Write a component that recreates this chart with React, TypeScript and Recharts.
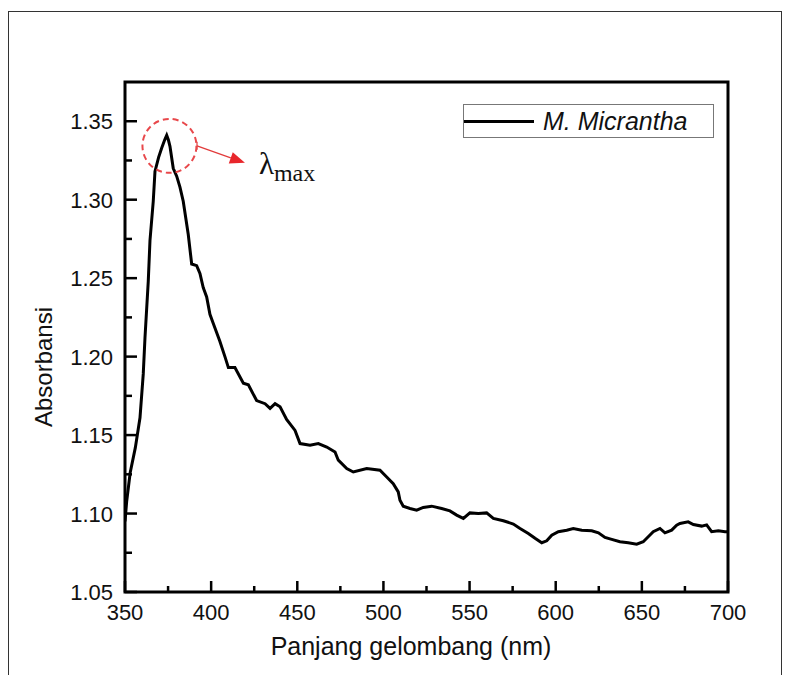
import { LineChart, Line, XAxis, YAxis, ReferenceArea, ReferenceDot, ReferenceLine, Legend } from "recharts";

const wavelength = [
  350, 351, 353, 356, 358.7, 360.6, 361.6, 363.5, 364.5, 366.4, 367.4, 369.5, 371.3, 373, 374.2, 375.2,
  376.1, 378, 380, 381.9, 383.8, 386.7, 388.7, 391.6, 393.5, 395.4, 397.4, 399.3, 401.3, 405, 408, 410,
  413.8, 418.7, 421.6, 426.4, 431.3, 434.2, 437.1, 440, 443.8, 448.7, 451.6, 457.4, 462.2, 467.1, 471.9,
  473.8, 478.7, 482.5, 490.3, 498, 501.9, 505.7, 508.6, 509.6, 511.5, 515.4, 519.3, 523.1, 528, 533.8,
  538.6, 542.5, 546.4, 550.2, 555.1, 559.9, 563.8, 569.6, 575.4, 579.3, 584.1, 588, 591.9, 594.8, 597.7,
  601.5, 606.4, 610.2, 615.1, 620.9, 624.8, 628.6, 632.5, 637.3, 642.1, 647, 650.8, 653.7, 656.6, 660.5,
  663.4, 667.3, 670.2, 672.1, 676.9, 679.9, 684.7, 687.6, 690.5, 694.4, 698.3, 700,
];

const absorbance = [
  1.095, 1.108, 1.126, 1.142, 1.161, 1.189, 1.212, 1.248, 1.274, 1.299, 1.318, 1.327, 1.333, 1.338, 1.341, 1.338,
  1.334, 1.32, 1.315, 1.308, 1.299, 1.278, 1.259, 1.258, 1.253, 1.244, 1.238, 1.227, 1.221, 1.21, 1.2, 1.193,
  1.193, 1.183, 1.182, 1.172, 1.17, 1.167, 1.17, 1.168, 1.16, 1.153, 1.1446, 1.1435, 1.1446, 1.1424, 1.1392,
  1.134, 1.1287, 1.1265, 1.1287, 1.1276, 1.1233, 1.119, 1.1138, 1.1085, 1.1047, 1.1032, 1.1022, 1.1039, 1.1047, 1.1032,
  1.1017, 1.099, 1.0969, 1.1004, 1.1, 1.1004, 1.0969, 1.0954, 1.0933, 1.0905, 1.0873, 1.0842, 1.0814, 1.0826, 1.0862,
  1.0884, 1.0894, 1.0905, 1.0894, 1.089, 1.0877, 1.0848, 1.0835, 1.082, 1.0814, 1.0805, 1.082, 1.0852, 1.0884, 1.0905,
  1.0877, 1.0894, 1.0926, 1.0937, 1.0947, 1.093, 1.092, 1.0928, 1.0884, 1.089, 1.0884, 1.0884,
];

const xTicks = [350, 375, 400, 425, 450, 475, 500, 525, 550, 575, 600, 625, 650, 675, 700];
const yTicks = [1.05, 1.075, 1.1, 1.125, 1.15, 1.175, 1.2, 1.225, 1.25, 1.275, 1.3, 1.325, 1.35];

const seriesName = "M. Micrantha";
const peak = { x: 375.8, y: 1.3343 };
const arrow = [
  { x: 391.8, y: 1.3343 },
  { x: 419.6, y: 1.3235 },
];

const data = wavelength.map((w, i) => ({ w, a: absorbance[i] }));

const sans = '"Liberation Sans", Arial, sans-serif';
const serif = '"Liberation Serif", "Times New Roman", serif';

const XTick = ({ x, y, payload }: any) => {
  const v = payload.value;
  const major = Math.round(v) % 50 === 0;
  return (
    <g>
      <line x1={x} x2={x} y1={y} y2={y - (major ? 11 : 6)} stroke="#000" strokeWidth={2.5} />
      {major && (
        <text x={x} y={y + 28} textAnchor="middle" fontFamily={sans} fontSize={22} fill="#111">
          {v}
        </text>
      )}
    </g>
  );
};

const YTick = ({ x, y, payload }: any) => {
  const v = payload.value;
  const major = Math.round(v * 1000) % 50 === 0;
  return (
    <g>
      <line x1={x} x2={x + (major ? 12 : 7)} y1={y} y2={y} stroke="#000" strokeWidth={2.5} />
      {major && (
        <text x={x - 12} y={y + 8} textAnchor="end" fontFamily={sans} fontSize={22} fill="#111">
          {v.toFixed(2)}
        </text>
      )}
    </g>
  );
};

const LegendBox = () => (
  <div
    style={{
      width: 249,
      height: 32,
      border: "1px solid #777",
      display: "flex",
      alignItems: "center",
      boxSizing: "content-box",
      background: "#fff",
    }}
  >
    <div style={{ width: 70, height: 3, background: "#000" }} />
    <span style={{ marginLeft: 9, fontFamily: sans, fontStyle: "italic", fontSize: 25, color: "#111" }}>
      {seriesName}
    </span>
  </div>
);

const ArrowShape = (p: any) => {
  const { x1, y1, x2, y2 } = p;
  const ang = Math.atan2(y2 - y1, x2 - x1);
  const L = 15;
  const W = 6;
  const bx = x2 - L * Math.cos(ang);
  const by = y2 - L * Math.sin(ang);
  const nx = -Math.sin(ang) * W;
  const ny = Math.cos(ang) * W;
  return (
    <g>
      <line x1={x1} y1={y1 - 4} x2={x1} y2={y1 + 4} stroke="#e23b3b" strokeWidth={1.2} />
      <line x1={x1} y1={y1} x2={bx} y2={by} stroke="#e23b3b" strokeWidth={1.3} />
      <polygon points={`${x2},${y2} ${bx + nx},${by + ny} ${bx - nx},${by - ny}`} fill="#e8262b" />
      <text x={x2 + 14} y={y2 + 11} fontFamily={serif} fill="#111">
        <tspan fontSize={31}>λ</tspan>
        <tspan fontSize={24} dy={7}>max</tspan>
      </text>
    </g>
  );
};

export default function App() {
  return (
    <div style={{ position: "absolute", left: 0, top: 0, width: 791, height: 675, overflow: "hidden", background: "#fff" }}>
      <div
        style={{
          position: "absolute",
          left: 8,
          top: 11,
          width: 772,
          height: 700,
          border: "1.5px solid #333",
        }}
      />
      <div style={{ position: "absolute", left: 0, top: 0 }}>
        <LineChart width={791} height={675} data={data} margin={{ top: 82, right: 63, bottom: 0, left: 0 }}>
          <XAxis
            dataKey="w"
            type="number"
            domain={[350, 700]}
            ticks={xTicks}
            interval={0}
            height={83}
            axisLine={false}
            tickLine={false}
            tickSize={0}
            tickMargin={0}
            tick={<XTick />}
            allowDataOverflow
            label={{
              content: ({ viewBox }: any) => (
                <text x={viewBox.x + 286} y={viewBox.y + 63} textAnchor="middle" fontFamily={sans} fontSize={25} fill="#111">
                  Panjang gelombang (nm)
                </text>
              ),
            }}
          />
          <YAxis
            type="number"
            domain={[1.05, 1.375]}
            ticks={yTicks}
            interval={0}
            width={125}
            axisLine={false}
            tickLine={false}
            tickSize={0}
            tickMargin={0}
            tick={<YTick />}
            allowDataOverflow
            label={{
              content: ({ viewBox }: any) => {
                const cx = viewBox.x + 43;
                const cy = viewBox.y + 285;
                return (
                  <text
                    x={cx}
                    y={cy}
                    transform={`rotate(-90 ${cx} ${cy})`}
                    textAnchor="middle"
                    dominantBaseline="central"
                    fontFamily={sans}
                    fontSize={24}
                    fill="#111"
                  >
                    Absorbansi
                  </text>
                );
              },
            }}
          />
          <ReferenceArea x1={350} x2={700} y1={1.05} y2={1.375} fill="none" stroke="#000" strokeWidth={3} ifOverflow="visible" />
          <Line
            type="linear"
            dataKey="a"
            name={seriesName}
            stroke="#000"
            strokeWidth={3}
            dot={false}
            isAnimationActive={false}
          />
          <ReferenceDot
            x={peak.x}
            y={peak.y}
            r={27}
            fill="none"
            stroke="#e8484b"
            strokeWidth={2}
            strokeDasharray="6 4"
            ifOverflow="visible"
          />
          <ReferenceLine segment={arrow} shape={ArrowShape} ifOverflow="visible" />
          <Legend
            layout="vertical"
            align="center"
            verticalAlign="middle"
            content={<LegendBox />}
            wrapperStyle={{ left: 463, top: 104, width: 251, height: 34 }}
          />
        </LineChart>
      </div>
    </div>
  );
}
